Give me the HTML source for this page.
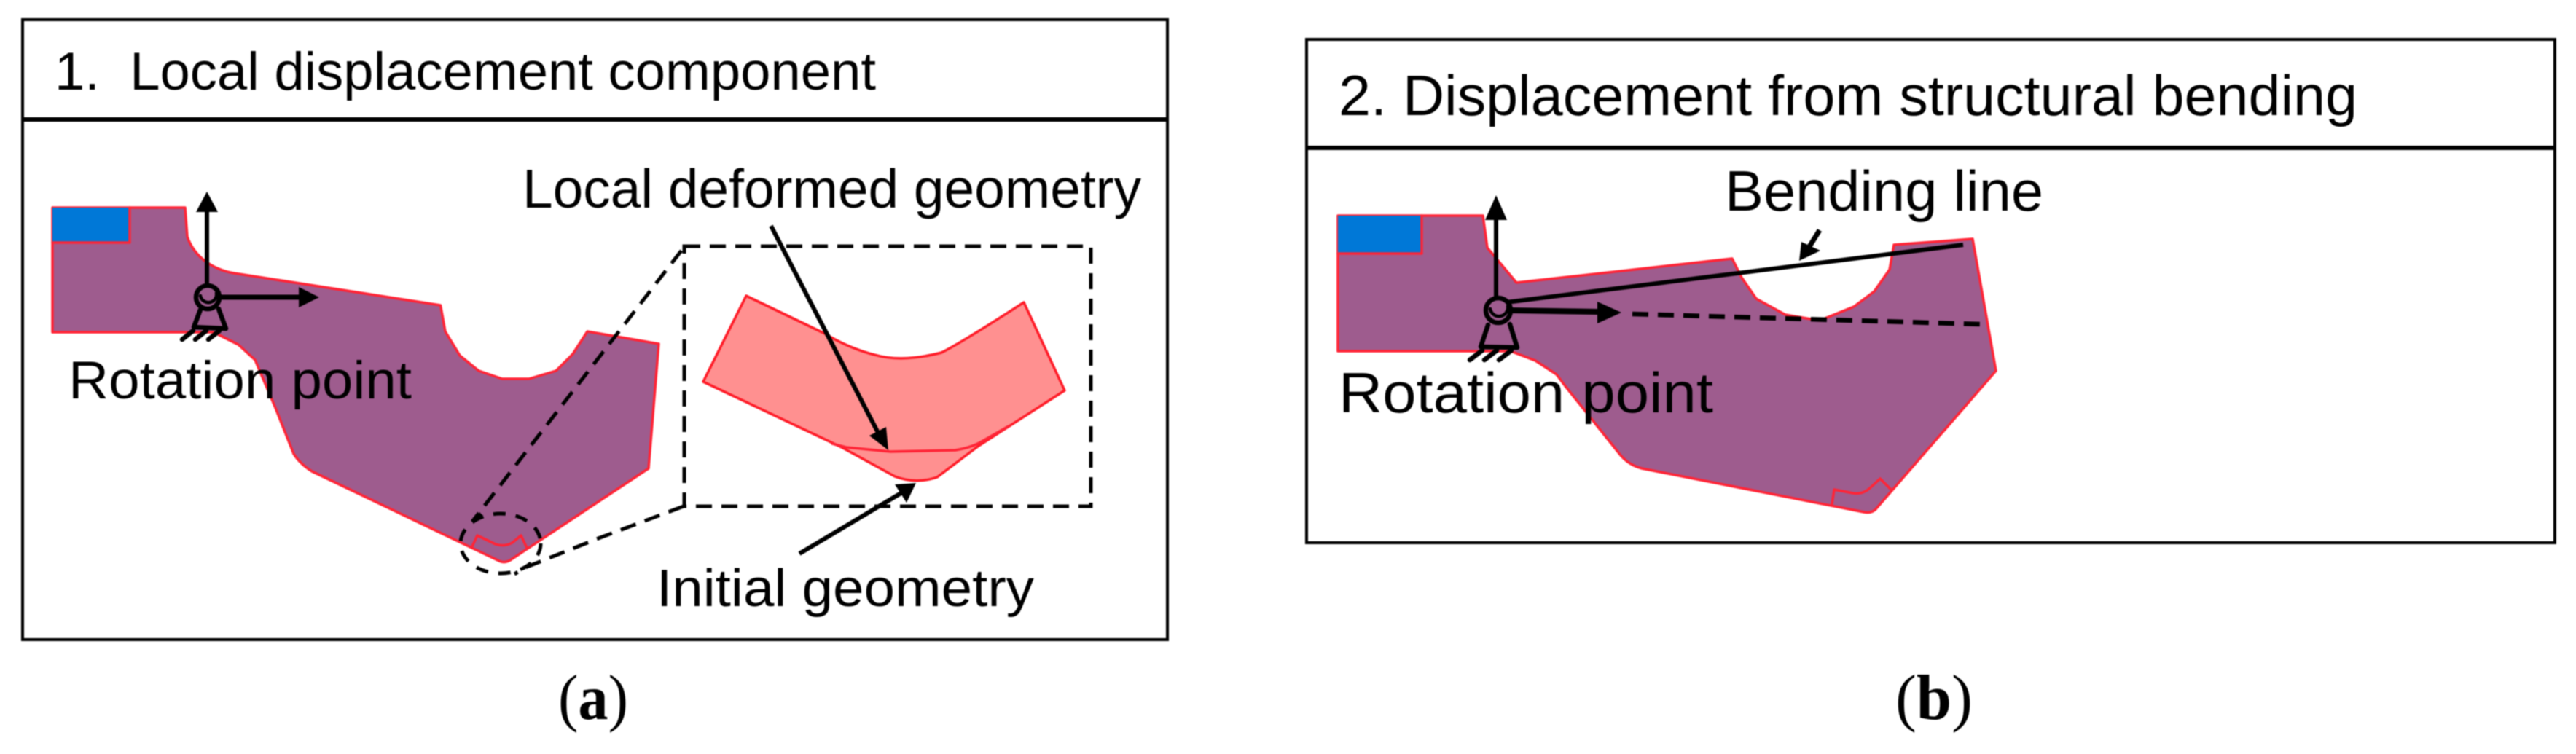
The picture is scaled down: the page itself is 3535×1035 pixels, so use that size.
<!DOCTYPE html>
<html lang="en">
<head>
<meta charset="utf-8">
<title>Displacement components</title>
<style>
html,body{margin:0;padding:0;background:#fff;width:3535px;height:1035px;overflow:hidden}
svg{display:block;filter:blur(.8px)}
text{font-family:"Liberation Sans",sans-serif;font-size:73px;fill:#000}
.cap{font-family:"Liberation Serif",serif;font-size:88px}
.red{fill:none;stroke:#ff2436;stroke-width:3.5;stroke-linejoin:round;stroke-linecap:round}
.body{fill:#9e5c8e;stroke:#ff2436;stroke-width:3.5;stroke-linejoin:round}
.sym{fill:none;stroke:#000;stroke-width:6.5;stroke-linejoin:round;stroke-linecap:round}
.ln{fill:none;stroke:#000;stroke-width:6;stroke-linecap:butt}
.dash{fill:none;stroke:#000;stroke-width:5;stroke-dasharray:22 13}
</style>
</head>
<body>
<svg width="3535" height="1035" viewBox="0 0 3535 1035" xmlns="http://www.w3.org/2000/svg">
<rect width="3535" height="1035" fill="#fff"/>

<!-- PANEL A -->
<rect x="31" y="27" width="1571" height="851" fill="#fff" stroke="#000" stroke-width="4"/>
<line x1="31" y1="164" x2="1602" y2="164" stroke="#000" stroke-width="6"/>
<text x="75" y="123" textLength="1127" lengthAdjust="spacingAndGlyphs" xml:space="preserve">1.  Local displacement component</text>

<path class="body" d="M72 285 L254 285 L257 325 Q264 345 281 358 Q298 371 321 375 L604.5 419 L611 455 L631 488 L657 509 L689 520 L726 520 L763 509 L786 486 L806 455 L904 472 L890 643 L703 767 Q693 775 683 769 L428 647 Q412 637 403 623 L378 560 L350 494 L327 473 L293 456 L72 456 Z"/>
<rect x="72" y="285" width="106" height="48" fill="#0078d7"/>
<path class="red" d="M72 333 L178 333 L178 285"/>
<path class="red" d="M648 750 L655 735 L680 747 Q692 751 703 745 L715 735 L723 752"/>

<!-- rotation symbol A -->
<line class="ln" x1="284" y1="288" x2="284" y2="393"/>
<polygon points="284,263 269,291 299,291" fill="#000"/>
<line class="ln" x1="300" y1="408" x2="412" y2="408" style="stroke-width:7"/>
<polygon points="438,408 410,394 410,422" fill="#000"/>
<circle class="sym" cx="285" cy="408" r="16"/>
<path d="M275 406 A11 11 0 0 0 297 402" class="sym" style="stroke-width:4.5"/>
<path class="sym" d="M275 425 L266 449 L310 451 L300 424"/>
<path class="sym" d="M250 466 L265 454 M268 466 L283 454 M286 466 L301 454"/>

<text x="94" y="547" textLength="471" lengthAdjust="spacingAndGlyphs">Rotation point</text>

<!-- zoom callout -->
<ellipse class="dash" cx="687" cy="746" rx="55" ry="41" style="stroke-dasharray:17 14"/>
<line class="dash" x1="935" y1="344" x2="648" y2="716"/>
<polyline class="dash" points="938,695 821,739 721,779 706,788"/>
<polyline class="dash" points="648,716 660,705"/>
<rect class="dash" x="939" y="338" width="558" height="357"/>

<path d="M1024 406 L1132 458 Q1165 478 1200 487 Q1238 498 1292 484 Q1320 470 1405 415 L1461 536 L1343 612 L1286 655 Q1257 665 1228 654 L1155 614 L965 524 Z" fill="#ff9090" stroke="#ff1c28" stroke-width="3.5" stroke-linejoin="round"/>
<path class="red" d="M1142 609 L1161 614 L1222 620 L1311 618 Q1335 614 1349 605 L1384 585"/>

<text x="717" y="285" textLength="849" lengthAdjust="spacingAndGlyphs" style="font-size:75px">Local deformed geometry</text>
<text x="901" y="832" textLength="518" lengthAdjust="spacingAndGlyphs" style="font-size:72px">Initial geometry</text>

<line class="ln" x1="1058" y1="310" x2="1205" y2="594"/>
<polygon points="1219,618 1193,598 1216,586" fill="#000"/>
<line class="ln" x1="1097" y1="760" x2="1238" y2="676"/>
<polygon points="1257,663 1228,665 1244,690" fill="#000"/>

<text class="cap" x="766" y="987" textLength="96" lengthAdjust="spacingAndGlyphs">(<tspan font-weight="bold">a</tspan>)</text>

<!-- PANEL B -->
<rect x="1793" y="54" width="1713" height="691" fill="#fff" stroke="#000" stroke-width="4"/>
<line x1="1793" y1="203" x2="3506" y2="203" stroke="#000" stroke-width="6"/>
<text x="1837" y="158" textLength="1398" lengthAdjust="spacingAndGlyphs" style="font-size:78px">2. Displacement from structural bending</text>

<path class="body" d="M1836 296 L2035 296 L2041 340 L2081 388 L2377 355 L2390 381 L2410 410 L2450 432 L2497 440 L2544 421 L2572 400 L2593 370 L2599 336 L2707 328 L2739 509 L2574 699 Q2568 705 2558 703 L2253 643 Q2233 638 2220 620 L2148 530 L2136 514 L2107 495 L2073 482 L1836 482 Z"/>
<rect x="1836" y="296" width="115" height="52" fill="#0078d7"/>
<path class="red" d="M1836 348 L1951 348 L1951 296"/>
<path class="red" d="M2514 692 L2517 672 L2543 677 Q2556 679 2566 670 L2580 657 L2595 672"/>

<!-- rotation symbol B -->
<line class="ln" x1="2053" y1="300" x2="2053" y2="410"/>
<polygon points="2053,268 2038,302 2068,302" fill="#000"/>
<line class="ln" x1="2070" y1="426" x2="2194" y2="428" style="stroke-width:8"/>
<polygon points="2225,429 2192,414 2192,444" fill="#000"/>
<line class="ln" x1="2067" y1="415" x2="2694" y2="336"/>
<line class="dash" x1="2240" y1="431" x2="2717" y2="445" style="stroke-width:6.5"/>
<circle class="sym" cx="2056" cy="426" r="17"/>
<path d="M2045 424 A11 11 0 0 0 2069 420" class="sym" style="stroke-width:4.5"/>
<path class="sym" d="M2042 446 L2032 476 L2082 477 L2072 445"/>
<path class="sym" d="M2017 494 L2034 481 M2037 494 L2054 481 M2057 494 L2074 481"/>

<text x="1837" y="566" textLength="514" lengthAdjust="spacingAndGlyphs" style="font-size:78px">Rotation point</text>
<text x="2367" y="289" textLength="437" lengthAdjust="spacingAndGlyphs" style="font-size:78px">Bending line</text>

<line class="ln" x1="2497" y1="316" x2="2482" y2="340" style="stroke-width:7"/>
<polygon points="2469,358 2472,332 2498,344" fill="#000"/>

<text class="cap" x="2601" y="987" textLength="106" lengthAdjust="spacingAndGlyphs">(<tspan font-weight="bold">b</tspan>)</text>
</svg>
</body>
</html>
